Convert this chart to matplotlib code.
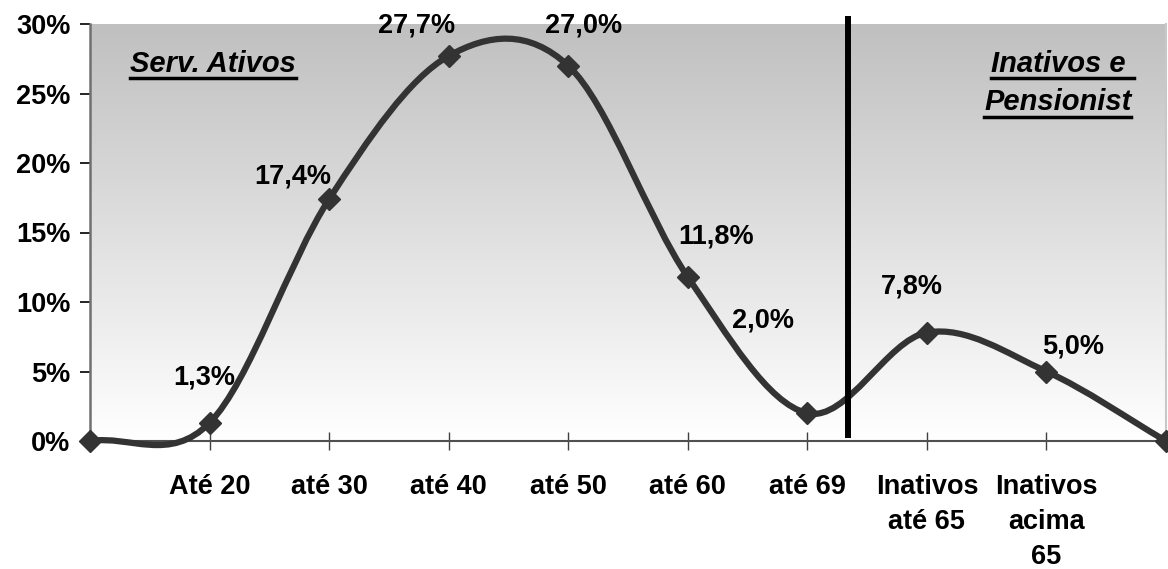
import numpy as np
import matplotlib
matplotlib.use("Agg")
import matplotlib.pyplot as plt
from matplotlib.path import Path
from matplotlib.patches import PathPatch
from matplotlib.lines import Line2D
from matplotlib.ticker import FuncFormatter

# ---- data ----
categories = ["", "Até 20", "até 30", "até 40", "até 50", "até 60", "até 69",
              "Inativos\naté 65", "Inativos\nacima\n65", ""]
values = [0.0, 1.3, 17.4, 27.7, 27.0, 11.8, 2.0, 7.8, 5.0, 0.0]
point_labels = ["", "1,3%", "17,4%", "27,7%", "27,0%", "11,8%", "2,0%", "7,8%", "5,0%", ""]
yticks = [0, 5, 10, 15, 20, 25, 30]
divider_x = 6.34

# label offsets in pixels (styling)
label_offsets = [(0, 0), (-5, 45), (-36, 23), (-32, 30), (15, 40), (28, 40),
                 (-44, 93), (-15, 46), (27, 25), (0, 0)]

W, H = 1168, 569
fig = plt.figure(figsize=(W / 100, H / 100), dpi=100)
fig.patch.set_facecolor("white")
plt.rcParams['font.family'] = ['Liberation Sans', 'DejaVu Sans']

FS = 19.5

left, right, top, bottom = 90, 1166, 24, 441
ax = fig.add_axes([left / W, 1 - bottom / H, (right - left) / W, (bottom - top) / H])

x = np.arange(len(values))
ax.set_xlim(0, len(values) - 1)
ax.set_ylim(0, 30)

# gradient background
grad = np.linspace(0, 1, 256).reshape(-1, 1)
ax.imshow(grad, cmap=matplotlib.colors.LinearSegmentedColormap.from_list(
    "g", ["#ffffff", "#c0c0c0"]), extent=[0, len(values) - 1, 0, 30],
    origin="lower", aspect="auto", zorder=0)

# smoothed curve (Excel-like Bezier)
n = len(values)
verts = [(x[0], values[0])]
codes = [Path.MOVETO]
def tangent(i):
    if i == 0:
        return (2 * (x[1] - x[0]), 2 * (values[1] - values[0]))
    if i == n - 1:
        return (2 * (x[-1] - x[-2]), 2 * (values[-1] - values[-2]))
    return (x[i + 1] - x[i - 1], values[i + 1] - values[i - 1])
for i in range(n - 1):
    t0 = tangent(i)
    t1 = tangent(i + 1)
    c1 = (x[i] + t0[0] / 6, values[i] + t0[1] / 6)
    c2 = (x[i + 1] - t1[0] / 6, values[i + 1] - t1[1] / 6)
    verts += [c1, c2, (x[i + 1], values[i + 1])]
    codes += [Path.CURVE4] * 3
ax.add_patch(PathPatch(Path(verts, codes), facecolor="none", edgecolor="#333333",
                       lw=4.5, zorder=3, clip_on=False, capstyle="round", joinstyle="round"))
ax.plot(x, values, linestyle="none", marker="D", ms=11, color="#333333",
        zorder=4, clip_on=False)

# divider
ax.plot([divider_x, divider_x], [0.2, 30.6], color="black", lw=4.3, zorder=5,
        clip_on=False, solid_capstyle="butt")

# data labels
for xi, v, lab, off in zip(x, values, point_labels, label_offsets):
    if lab:
        ax.annotate(lab, (xi, v), xytext=off, textcoords="offset pixels",
                    ha="center", va="center", fontsize=FS, fontweight="bold",
                    color="black", zorder=6, annotation_clip=False)

# axes styling
ax.spines["top"].set_visible(False)
ax.spines["right"].set_color("#c8c8c8")
ax.spines["right"].set_linewidth(1.5)
ax.spines["left"].set_color("#707070")
ax.spines["left"].set_linewidth(1.8)
ax.spines["bottom"].set_color("#505050")
ax.spines["bottom"].set_linewidth(1.5)

ax.set_yticks(yticks)
ax.yaxis.set_major_formatter(FuncFormatter(lambda v, p: f"{int(v)}%"))
ax.tick_params(axis="y", direction="out", length=7, width=1.2, color="black",
               pad=7, labelsize=FS)
ax.set_xticks(x[1:-1])
ax.set_xticklabels(categories[1:-1], linespacing=1.45)
ax.tick_params(axis="x", direction="inout", length=13, width=1.0, color="#404040",
               pad=17, labelsize=FS)
for t in ax.get_xticklabels() + ax.get_yticklabels():
    t.set_fontweight("bold")

# section titles
def ftext(px, py, s):
    return fig.text(px / W, 1 - py / H, s, fontsize=21, fontweight="bold",
                    fontstyle="italic", ha="left", va="baseline", color="black")

t1 = ftext(130, 72, "Serv. Ativos")
t2 = ftext(991, 72, "Inativos e ")
t3 = ftext(984, 110, "Pensionist")

fig.canvas.draw()
r = fig.canvas.get_renderer()
for t, uy in [(t1, 78), (t2, 78), (t3, 117)]:
    bb = t.get_window_extent(r)
    fig.add_artist(Line2D([bb.x0 / W, bb.x1 / W], [1 - uy / H, 1 - uy / H],
                          transform=fig.transFigure, color="black", lw=2.5))

fig.savefig("out.png", dpi=100)
